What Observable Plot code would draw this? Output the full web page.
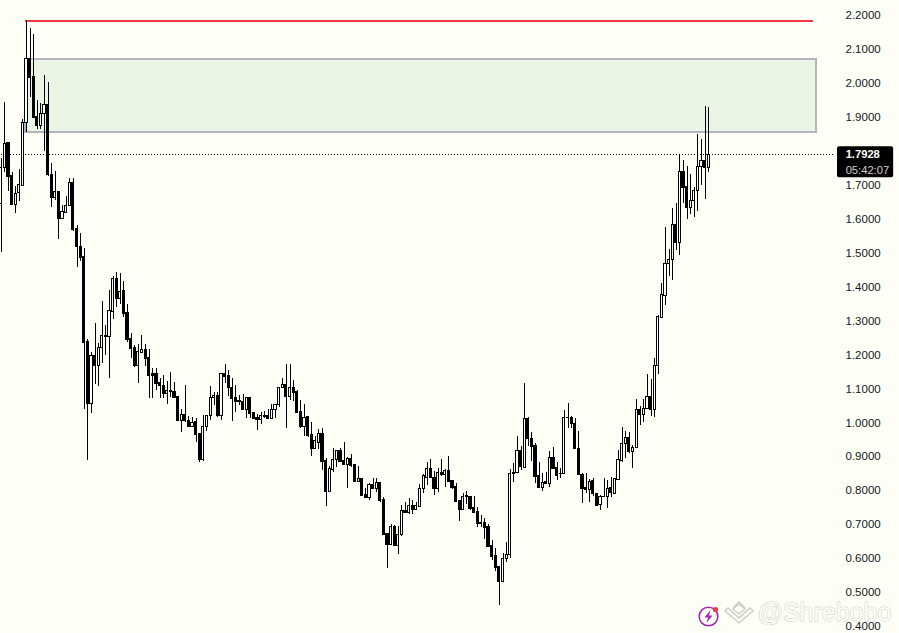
<!DOCTYPE html>
<html><head><meta charset="utf-8">
<script src="https://cdn.jsdelivr.net/npm/d3@7"></script>
<script src="https://cdn.jsdelivr.net/npm/@observablehq/plot@0.6"></script>
<style>html,body{margin:0;padding:0;background:#FDFFF6;overflow:hidden}svg{display:block}</style>
</head><body><div id="chart"></div>
<script>
const opens=[1.648,1.754,1.828,1.731,1.645,1.680,1.701,1.887,2.075,2.022,
1.904,1.878,1.913,1.940,1.733,1.666,1.683,1.604,1.622,1.642,
1.710,1.574,1.521,1.492,1.242,1.059,1.200,1.171,1.224,1.259,
1.256,1.330,1.427,1.368,1.392,1.327,1.250,1.224,1.171,1.209,
1.218,1.195,1.148,1.148,1.121,1.112,1.089,1.094,1.094,1.080,
1.009,1.027,1.009,.991,1.006,.971,.894,.991,1.024,1.077,
1.083,1.024,1.148,1.142,1.106,1.077,1.068,1.065,1.041,1.077,
1.033,1.018,1.012,1.021,1.024,1.015,1.041,1.056,1.106,1.115,
1.080,1.106,1.094,1.036,.991,1.021,.968,.927,.945,.971,
.891,.800,.864,.894,.921,.891,.879,.897,.879,.829,
.838,.791,.782,.820,.809,.826,.776,.676,.644,.697,
.641,.673,.743,.738,.758,.747,.755,.809,.841,.867,
.841,.809,.856,.850,.861,.832,.814,.773,.747,.785,
.785,.753,.741,.706,.709,.697,.641,.611,.579,.535,
.602,.614,.853,.856,.921,.870,1.015,.956,.935,.847,
.811,.829,.823,.900,.870,.853,.853,1.018,1.018,1.000,
.927,.850,.811,.806,.832,.794,.761,.785,.785,.811,
.794,.835,.891,.941,.959,.918,.929,1.041,1.027,1.044,
1.080,1.041,1.171,1.312,1.377,1.471,1.483,1.586,1.533,1.742,
1.698,1.636,1.657,1.686,1.757,1.775,1.754];
const highs=[1.781,1.948,1.828,1.739,1.698,1.748,1.898,2.187,2.166,2.146,
1.954,1.943,2.025,2.005,1.766,1.742,1.683,1.642,1.669,1.722,
1.722,1.583,1.560,1.516,1.247,1.209,1.297,1.236,1.359,1.289,
1.392,1.433,1.445,1.442,1.418,1.351,1.265,1.230,1.233,1.259,
1.233,1.218,1.162,1.162,1.135,1.142,1.124,1.150,1.121,1.080,
1.041,1.112,1.021,1.018,1.015,.971,1.024,1.024,1.109,1.092,
1.092,1.148,1.174,1.156,1.135,1.112,1.083,1.086,1.077,1.077,
1.033,1.027,1.033,1.036,1.041,1.056,1.056,1.106,1.135,1.174,
1.174,1.127,1.097,1.068,1.056,1.021,1.003,.962,.983,.985,
.897,.873,.927,.921,.927,.944,.900,.909,.879,.873,
.838,.809,.823,.838,.838,.826,.782,.676,.703,.700,
.697,.758,.767,.779,.773,.767,.820,.850,.885,.894,
.859,.867,.894,.864,.903,.832,.823,.773,.794,.800,
.785,.785,.753,.729,.720,.703,.655,.632,.579,.617,
.649,.864,.882,.962,.932,1.118,1.018,.973,.941,.885,
.853,.856,.918,.929,.885,.867,1.039,1.059,1.021,1.015,
.976,.853,.853,.835,.838,.794,.788,.838,.832,.841,
.838,.921,.988,.976,.973,.935,1.071,1.050,1.071,1.144,
1.130,1.192,1.318,1.412,1.577,1.513,1.633,1.648,1.793,1.775,
1.757,1.736,1.695,1.851,1.839,1.934,1.931];
const lows=[1.504,1.739,1.683,1.645,1.619,1.654,1.698,1.857,1.960,1.901,
1.866,1.866,1.801,1.728,1.636,1.657,1.542,1.601,1.619,1.639,
1.568,1.460,1.477,1.041,.891,1.030,1.115,1.109,1.177,1.200,
1.135,1.306,1.342,1.353,1.312,1.239,1.192,1.165,1.118,1.206,
1.168,1.074,1.074,1.097,1.074,1.074,1.056,1.077,1.077,1.006,
.973,1.003,.991,.991,.944,.886,.888,.976,1.009,1.053,
1.018,1.009,1.118,1.080,1.006,1.033,1.053,1.041,1.015,1.015,
1.012,.980,.997,1.015,1.015,1.015,1.015,1.047,1.106,.985,
1.068,1.065,1.033,.985,.962,.959,.903,.924,.924,.862,
.756,.797,.858,.870,.888,.879,.809,.870,.826,.826,
.788,.782,.773,.806,.797,.767,.673,.573,.641,.638,
.614,.667,.735,.732,.732,.747,.755,.794,.817,.838,
.788,.797,.844,.811,.826,.806,.767,.711,.747,.761,
.744,.738,.694,.694,.658,.635,.596,.564,.464,.535,
.591,.602,.826,.853,.862,.870,.932,.888,.823,.809,
.800,.820,.811,.867,.832,.838,.853,.985,.985,.924,
.847,.765,.794,.767,.785,.758,.744,.782,.750,.782,
.794,.835,.885,.897,.912,.868,.929,.994,1.003,1.044,
1.021,1.018,1.144,1.309,1.348,1.433,1.421,1.510,1.495,1.648,
1.601,1.616,1.607,1.627,1.701,1.660,1.739];
const closes=[1.754,1.825,1.728,1.645,1.678,1.704,1.887,2.075,2.019,1.901,
1.878,1.913,1.940,1.733,1.666,1.683,1.604,1.624,1.642,1.710,
1.571,1.521,1.489,1.239,1.059,1.200,1.171,1.224,1.259,1.256,
1.333,1.427,1.368,1.389,1.324,1.247,1.221,1.171,1.212,1.218,
1.192,1.142,1.142,1.118,1.112,1.089,1.097,1.097,1.077,1.009,
1.027,1.009,.991,1.003,.968,.894,.991,1.024,1.077,1.083,
1.024,1.148,1.139,1.106,1.074,1.065,1.065,1.041,1.077,1.030,
1.015,1.012,1.024,1.024,1.015,1.041,1.056,1.106,1.115,1.080,
1.106,1.092,1.033,.991,1.018,.965,.927,.948,.971,.888,
.800,.867,.894,.921,.888,.879,.897,.876,.829,.838,
.788,.782,.820,.809,.826,.773,.673,.644,.697,.641,
.673,.743,.738,.758,.747,.758,.809,.847,.867,.841,
.809,.856,.850,.861,.829,.811,.770,.747,.785,.788,
.750,.738,.706,.709,.694,.638,.608,.576,.535,.602,
.614,.853,.856,.921,.873,1.015,.956,.932,.844,.811,
.826,.823,.900,.867,.847,.852,1.018,1.017,1.000,.927,
.850,.809,.806,.829,.794,.758,.785,.784,.809,.797,
.838,.894,.941,.959,.918,.929,1.041,1.027,1.044,1.080,
1.041,1.171,1.315,1.380,1.471,1.483,1.586,1.533,1.742,1.695,
1.636,1.657,1.686,1.757,1.775,1.754,1.793];
const tickValues=[2.2,2.1,2.0,1.9,1.7,1.6,1.5,1.4,1.3,1.2,1.1,1.0,0.9,0.8,0.7,0.6,0.5,0.4];
const lastPrice=1.7928;
const countdown="05:42:07";
const resistance=2.1865;
const zoneTop=2.0745, zoneBottom=1.8595;
const bars=d3.range(opens.length);
const FONT='"Liberation Sans",Arial,sans-serif';
const black="#000000";
const crisp={shapeRendering:"crispEdges"};

function watermark(){
  const ns="http://www.w3.org/2000/svg";
  const g=document.createElementNS(ns,"g");
  g.innerHTML=`
  <g fill="none" stroke="#c9c9c9" stroke-width="1.3">
    <path d="M733 608 L739 602 L745 608"/>
    <path d="M725 611 L728 608 L739 618 L750 608 L753 611 L739 623 Z" fill="#fdfff6"/>
    <path d="M733 609 L739 604 L745 609 L739 614 Z" fill="#fdfff6"/>
  </g>
  <circle cx="708.5" cy="616.5" r="9.3" fill="none" stroke="#a12bb5" stroke-width="1.6"/>
  <path d="M710.5 610 L704.5 617.5 L708 617.5 L706.5 623 L712.5 615.5 L709 615.5 Z" fill="#a12bb5"/>
  <circle cx="715.5" cy="609.5" r="2.6" fill="#f23645"/>`;
  return g;
}

const chart=Plot.plot({
  width:899,height:633,
  marginTop:0,marginBottom:0,marginLeft:0,marginRight:54,
  style:{background:"#FDFFF6",fontFamily:FONT,overflow:"visible"},
  x:{type:"linear",domain:[0,196],range:[0.7,708.3],axis:null},
  y:{type:"linear",domain:[0.4,2.2],range:[627,16],axis:null},
  marks:[
    Plot.rect([0],{x1:6.6,x2:225.8,y1:zoneBottom,y2:zoneTop,fill:"#EAF5E5",stroke:"#B2B5BE",strokeWidth:2,...crisp}),
    Plot.ruleY([resistance],{x1:6.6,x2:225,stroke:"#F23645",strokeWidth:2,...crisp}),
    Plot.ruleY([lastPrice],{x1:0,x2:231,stroke:black,strokeWidth:1,strokeDasharray:"1,2",...crisp}),
    Plot.ruleX(bars,{x:i=>i,y1:i=>lows[i],y2:i=>highs[i],stroke:black,strokeWidth:1,...crisp}),
    Plot.rect(bars,{x1:i=>i-0.3,x2:i=>i+0.3,y1:i=>opens[i],y2:i=>closes[i],
      fill:i=>closes[i]>=opens[i]?"#ffffff":"#000000",stroke:black,strokeWidth:1,...crisp}),
    watermark,
    Plot.text(["@Shrebobo"],{x:209.5,y:0.4435,text:d=>d,fill:"#fdfff6",stroke:"#c9c9c9",strokeWidth:1,fontSize:25,textAnchor:"start",fontFamily:FONT}),
    Plot.axisY({anchor:"right",ticks:tickValues,tickSize:0,tickPadding:0,textAnchor:"start",dy:-1,
      tickFormat:d=>d.toFixed(4),fill:"#131722",fontSize:11.5,fontFamily:FONT,label:null}),
    Plot.rect([0],{x1:231.65,x2:247.2,y1:1.725,y2:1.816,fill:black,rx:2}),
    Plot.text([lastPrice.toFixed(4)],{x:233.9,y:lastPrice,text:d=>d,fill:"#ffffff",fontSize:11.2,fontWeight:"bold",textAnchor:"start",fontFamily:FONT}),
    Plot.text([countdown],{x:233.9,y:1.7473,text:d=>d,fill:"#cfcfcf",fontSize:11.2,textAnchor:"start",fontFamily:FONT})
  ]
});
document.getElementById("chart").appendChild(chart);
</script></body></html>
